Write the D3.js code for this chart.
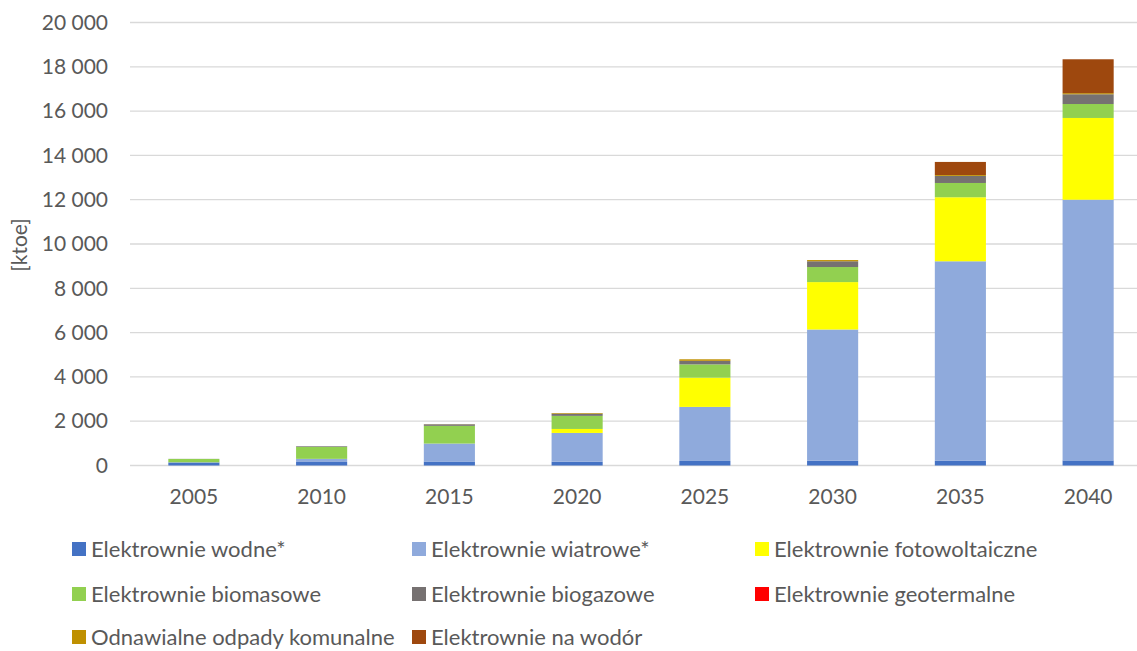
<!DOCTYPE html>
<html>
<head>
<meta charset="utf-8">
<script src="https://cdn.jsdelivr.net/npm/d3@7"></script>
<style>
  html, body { margin: 0; padding: 0; background: #fff; }
  svg { display: block; }
  text { font-family: Lato, "Noto Sans", sans-serif; fill: #595959; }
</style>
</head>
<body>
<svg id="chart" width="1137" height="651"></svg>
<script>
// Produkcja energii elektrycznej z OZE [ktoe]
const years = ["2005", "2010", "2015", "2020", "2025", "2030", "2035", "2040"];

const wodne        = [135, 160, 180, 170, 205, 220, 210, 230];
const wiatrowe     = [10, 140, 810, 1300, 2440, 5920, 9010, 11770];
const fotowolt     = [0, 0, 0, 180, 1320, 2140, 2890, 3690];
const biomasowe    = [150, 540, 800, 590, 600, 680, 645, 630];
const biogazowe    = [5, 30, 70, 100, 160, 260, 320, 440];
const geotermalne  = [0, 0, 0, 0, 0, 0, 0, 0];
const odpady       = [0, 0, 5, 30, 70, 55, 40, 50];
const wodor        = [0, 0, 0, 0, 0, 0, 590, 1530];

const seriesNames = [
  "Elektrownie wodne*", "Elektrownie wiatrowe*", "Elektrownie fotowoltaiczne",
  "Elektrownie biomasowe", "Elektrownie biogazowe", "Elektrownie geotermalne",
  "Odnawialne odpady komunalne", "Elektrownie na wodór"
];
const seriesValues = [wodne, wiatrowe, fotowolt, biomasowe, biogazowe, geotermalne, odpady, wodor];
const seriesColors = ["#4472C4", "#8FAADC", "#FFFF00", "#92D050", "#767171", "#FF0000", "#BF9000", "#9E480E"];

const yTicks = [0, 2000, 4000, 6000, 8000, 10000, 12000, 14000, 16000, 18000, 20000];

// Table for the stack layout
const keys = seriesNames.map((_, i) => "s" + i);
const table = years.map((yr, j) => {
  const row = { year: yr };
  keys.forEach((k, i) => { row[k] = seriesValues[i][j]; });
  return row;
});

const svg = d3.select("#chart");
const plotLeft = 130, plotRight = 1152, plotTop = 22.5, plotBottom = 465.5;

const x = d3.scaleBand().domain(years).range([plotLeft, plotRight]).paddingInner(0.6).paddingOuter(0.3);
const y = d3.scaleLinear().domain([0, 20000]).range([plotBottom, plotTop]);

const fmt = v => d3.format(",")(v).replace(/,/g, " ");

// Gridlines
svg.append("g")
  .selectAll("line")
  .data(yTicks)
  .join("line")
  .attr("x1", plotLeft).attr("x2", plotRight)
  .attr("y1", d => y(d)).attr("y2", d => y(d))
  .attr("stroke", "#d9d9d9").attr("stroke-width", 1.3);

// Y axis labels
const yAxis = svg.append("g")
  .attr("transform", `translate(${plotLeft - 22},0)`)
  .call(d3.axisLeft(y).tickValues(yTicks).tickFormat(fmt).tickSize(0).tickPadding(0));
yAxis.select(".domain").remove();
yAxis.selectAll("text").attr("font-size", 21).attr("fill", "#595959")
  .style("font-family", "Lato, sans-serif");

// Stacked bars
const stack = d3.stack().keys(keys)(table);
svg.append("g")
  .selectAll("g")
  .data(stack)
  .join("g")
  .attr("fill", (d, i) => seriesColors[i])
  .selectAll("rect")
  .data(d => d)
  .join("rect")
  .attr("x", d => x(d.data.year))
  .attr("width", x.bandwidth())
  .attr("y", d => y(d[1]))
  .attr("height", d => Math.max(0, y(d[0]) - y(d[1])));

// X axis labels
const xAxis = svg.append("g")
  .attr("transform", `translate(0,${plotBottom})`)
  .call(d3.axisBottom(x).tickSize(0).tickPadding(24));
xAxis.select(".domain").remove();
xAxis.selectAll("text").attr("font-size", 21).attr("fill", "#595959")
  .style("font-family", "Lato, sans-serif");

// Y axis title
svg.append("text")
  .attr("transform", "translate(27,245) rotate(-90)")
  .attr("text-anchor", "middle")
  .attr("font-size", 21)
  .text("[ktoe]");

// Legend
const legendCols = [72, 412, 755];
const legendRows = [549, 594, 637];
const legend = svg.append("g")
  .selectAll("g")
  .data(seriesNames)
  .join("g")
  .attr("transform", (d, i) => `translate(${legendCols[i % 3]},${legendRows[Math.floor(i / 3)]})`);
legend.append("rect")
  .attr("x", 0).attr("y", -7).attr("width", 14).attr("height", 14)
  .attr("fill", (d, i) => seriesColors[i]);
legend.append("text")
  .attr("x", 19).attr("dy", "0.36em")
  .attr("font-size", 22)
  .text(d => d);
</script>
</body>
</html>
